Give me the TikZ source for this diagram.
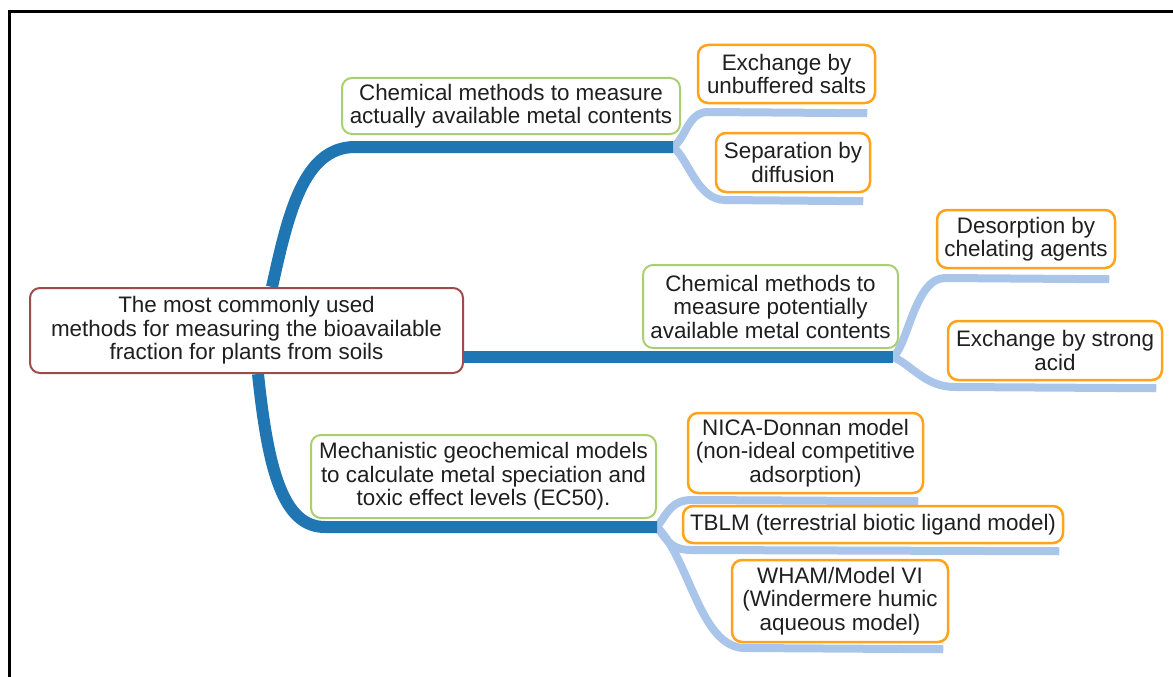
\documentclass[tikz,border=0pt]{standalone}
\usepackage{fontspec}
\setmainfont{Liberation Sans}
\usetikzlibrary{backgrounds}

\definecolor{rootred}{HTML}{9E4B4A}
\definecolor{branchgreen}{HTML}{A9CF6E}
\definecolor{leaforange}{HTML}{FFA31A}
\definecolor{trunkblue}{HTML}{1F76B3}
\definecolor{twigblue}{HTML}{AAC5EA}

\tikzset{
  box/.style={draw, rounded corners=10pt, fill=white, align=center, inner sep=0pt, text=black!88},
  rootbox/.style={box, draw=rootred, line width=2pt},
  branchbox/.style={box, draw=branchgreen, line width=2pt},
  leafbox/.style={box, draw=leaforange, line width=2.5pt},
  trunk/.style={draw=trunkblue, line width=12pt},
  twig/.style={draw=twigblue, line width=8pt, line join=round},
}

\begin{document}
\begin{tikzpicture}[x=1pt,y=-1pt, font=\fontsize{22.4}{23.5}\selectfont]
\useasboundingbox (0,0) rectangle (1173,677);

% outer frame, runs off right and bottom
\draw[line width=3pt] (9.5,677) -- (9.5,11.5) -- (1173,11.5);

% centre topic
\node[rootbox, minimum width=433pt, minimum height=85pt] (root) at (246.5,330.5)
  {The most commonly used\\methods for measuring the bioavailable\\fraction for plants from soils};

% main branches
\node[branchbox, minimum width=338pt, minimum height=56pt] (chemact) at (511,106)
  {Chemical methods to measure\\actually available metal contents};
\node[branchbox, minimum width=255pt, minimum height=83pt] (chempot) at (770.5,306.5)
  {Chemical methods to\\measure potentially\\available metal contents};
\node[branchbox, minimum width=345pt, minimum height=83pt] (mechmod) at (483.5,476.5)
  {Mechanistic geochemical models\\to calculate metal speciation and\\toxic effect levels (EC50).};

% leaves
\node[leafbox, minimum width=177pt, minimum height=58pt] (unbuf) at (786.5,74)
  {Exchange by\\unbuffered salts};
\node[leafbox, minimum width=154pt, minimum height=59pt] (diffus) at (793,162.5)
  {Separation by\\diffusion};
\node[leafbox, minimum width=178pt, minimum height=58pt] (chelat) at (1026,239)
  {Desorption by\\chelating agents};
\node[leafbox, minimum width=214pt, minimum height=59pt] (strong) at (1055,350.5)
  {Exchange by strong\\acid};
\node[leafbox, minimum width=235pt, minimum height=80pt] (nica) at (805.5,453)
  {NICA-Donnan model\\(non-ideal competitive\\adsorption)};
\node[leafbox, minimum width=380pt, minimum height=37pt] (tblm) at (873,524.5)
  {TBLM (terrestrial biotic ligand model)};
\node[leafbox, minimum width=216pt, minimum height=82pt] (wham) at (840,601)
  {WHAM/Model VI\\(Windermere humic\\aqueous model)};

% fork points
\coordinate (fact) at (673,147);
\coordinate (fpot) at (893,357);
\coordinate (fmech) at (657,527);

\begin{scope}[on background layer]
% light twigs under the leaves (start hidden under the trunk end)
\draw[twig] ([xshift=-5pt]fact) -- (fact) .. controls (686,138) and (688,112) .. (708,112) -- ([xshift=-9pt,yshift=-9pt]unbuf.south east);
\draw[twig] ([xshift=-5pt]fact) -- (fact) .. controls (688,158) and (697,200) .. (725,200) -- ([xshift=-8pt,yshift=-8pt]diffus.south east);
\draw[twig] ([xshift=-5pt]fpot) -- (fpot) .. controls (908,345) and (915,278) .. (945,278) -- ([xshift=-7pt,yshift=-10pt]chelat.south east);
\draw[twig] ([xshift=-5pt]fpot) -- (fpot) .. controls (912,365) and (925,387) .. (955,387) -- ([xshift=-7pt,yshift=-7pt]strong.south east);
\draw[twig] ([xshift=-5pt]fmech) -- (fmech) .. controls (668,512) and (672,500) .. (692,500) -- ([xshift=-6pt,yshift=-7pt]nica.south east);
\draw[twig] ([xshift=-5pt]fmech) -- (fmech) .. controls (668,542) and (672,550) .. (692,550) -- ([xshift=-5pt,yshift=-7pt]tblm.south east);
\draw[twig] ([xshift=-5pt]fmech) -- (fmech) .. controls (690,560) and (700,648) .. (745,648) -- ([xshift=-6pt,yshift=-6pt]wham.south east);

% dark trunks from the centre topic
\draw[trunk] ([xshift=25.5pt]root.north) .. controls (288,215) and (303,147) .. (355,147) -- (fact);
\draw[trunk] (root.east |- fpot) -- (fpot);
\draw[trunk] ([xshift=11.5pt]root.south) .. controls (268,470) and (283,527) .. (325,527) -- (fmech);
\end{scope}
\end{tikzpicture}
\end{document}
